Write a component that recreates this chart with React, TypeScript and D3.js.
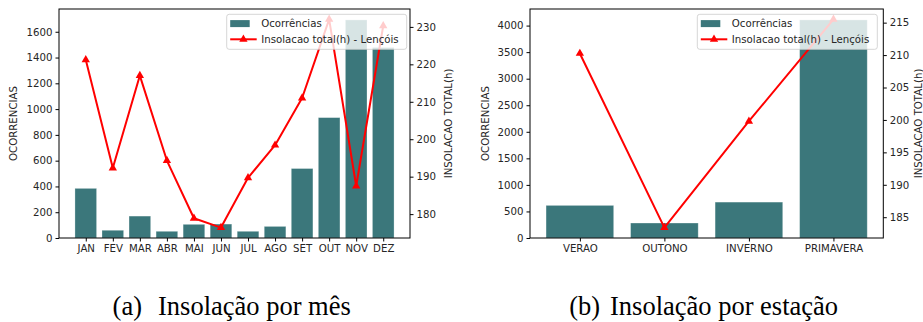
import React, { useEffect, useRef } from 'react'
import * as d3 from 'd3'

const months = ['JAN', 'FEV', 'MAR', 'ABR', 'MAI', 'JUN', 'JUL', 'AGO', 'SET', 'OUT', 'NOV', 'DEZ']
const monthCounts = [385, 60, 170, 52, 106, 108, 52, 90, 539, 934, 1692, 1478]
const monthSun = [221.2, 192.3, 217.0, 194.3, 178.9, 176.4, 189.7, 198.4, 211.0, 232.0, 187.5, 230.3]
const monthCountTicks = [0, 200, 400, 600, 800, 1000, 1200, 1400, 1600]
const monthSunTicks = [180, 190, 200, 210, 220, 230]

const seasons = ['VERAO', 'OUTONO', 'INVERNO', 'PRIMAVERA']
const seasonCounts = [614, 282, 676, 4107]
const seasonSun = [210.25, 183.4, 199.8, 215.5]
const seasonCountTicks = [0, 500, 1000, 1500, 2000, 2500, 3000, 3500, 4000]
const seasonSunTicks = [185, 190, 195, 200, 205, 210, 215]

const captionTags = ['(a)', '(b)']
const captionTitles = ['Insolação por mês', 'Insolação por estação']

const BAR = '#3b777b'
const TXT = '#262626'
const FONT = 'DejaVu Sans'
const FS = 10.2

type Panel = {
  cats: string[]
  counts: number[]
  sun: number[]
  countTicks: number[]
  sunTicks: number[]
  left: number
  right: number
  leftLabelX: number
  rightLabelX: number
  legendX: number
}

function drawPanel(svg: any, p: Panel) {
  const top = 9
  const bottom = 238
  const n = p.cats.length

  // matplotlib style margins (5% of the data span)
  const m = 0.05 * (n - 0.2)
  const x = d3.scaleLinear().domain([-0.4 - m, n - 0.6 + m]).range([p.left, p.right])
  const cMax = d3.max(p.counts) as number
  const y = d3.scaleLinear().domain([0, cMax * 1.05]).range([bottom, top])
  const sMin = d3.min(p.sun) as number
  const sMax = d3.max(p.sun) as number
  const pad = (sMax - sMin) * 0.05
  const y2 = d3.scaleLinear().domain([sMin - pad, sMax + pad]).range([bottom, top])

  const g = svg.append('g')

  // bars
  g.selectAll('rect.bar')
    .data(p.counts)
    .enter()
    .append('rect')
    .attr('class', 'bar')
    .attr('x', (d: number, i: number) => x(i - 0.4))
    .attr('width', x(0.8) - x(0))
    .attr('y', (d: number) => y(d))
    .attr('height', (d: number) => bottom - y(d))
    .attr('fill', BAR)
    .attr('stroke', '#ffffff')
    .attr('stroke-opacity', 0.35)
    .attr('stroke-width', 0.8)

  // line
  const line = d3
    .line<number>()
    .x((d, i) => x(i))
    .y((d) => y2(d))
  g.append('path')
    .datum(p.sun)
    .attr('d', line)
    .attr('fill', 'none')
    .attr('stroke', '#ff0000')
    .attr('stroke-width', 2)
    .attr('stroke-linejoin', 'round')

  const tri = d3.symbol().type(d3.symbolTriangle).size(30)
  g.selectAll('path.mk')
    .data(p.sun)
    .enter()
    .append('path')
    .attr('class', 'mk')
    .attr('d', tri)
    .attr('transform', (d: number, i: number) => `translate(${x(i)},${y2(d)})`)
    .attr('fill', '#ff0000')

  // frame
  g.append('rect')
    .attr('x', p.left)
    .attr('y', top)
    .attr('width', p.right - p.left)
    .attr('height', bottom - top)
    .attr('fill', 'none')
    .attr('stroke', '#000')
    .attr('stroke-width', 1)

  const axisStyle = (a: any) => {
    a.select('.domain').remove()
    a.selectAll('line').attr('stroke', '#000')
    a.selectAll('text').attr('fill', TXT).attr('font-family', FONT).attr('font-size', FS)
  }

  g.append('g')
    .attr('transform', `translate(0,${bottom})`)
    .call(
      d3.axisBottom(x)
        .tickValues(d3.range(n))
        .tickFormat((d: any) => p.cats[d])
        .tickSize(3.5)
        .tickPadding(3),
    )
    .call(axisStyle)

  g.append('g')
    .attr('transform', `translate(${p.left},0)`)
    .call(d3.axisLeft(y).tickValues(p.countTicks).tickFormat(d3.format('d')).tickSize(3.5).tickPadding(3))
    .call(axisStyle)

  g.append('g')
    .attr('transform', `translate(${p.right},0)`)
    .call(d3.axisRight(y2).tickValues(p.sunTicks).tickFormat(d3.format('d')).tickSize(3.5).tickPadding(3))
    .call(axisStyle)

  const midY = (top + bottom) / 2
  g.append('text')
    .attr('transform', `translate(${p.leftLabelX},${midY}) rotate(-90)`)
    .attr('text-anchor', 'middle')
    .attr('dominant-baseline', 'central')
    .attr('font-family', FONT)
    .attr('font-size', FS)
    .attr('fill', TXT)
    .text('OCORRENCIAS')
  g.append('text')
    .attr('transform', `translate(${p.rightLabelX},${midY}) rotate(-90)`)
    .attr('text-anchor', 'middle')
    .attr('dominant-baseline', 'central')
    .attr('font-family', FONT)
    .attr('font-size', FS)
    .attr('fill', TXT)
    .text('INSOLACAO TOTAL(h)')

  // legend
  const lg = g.append('g').attr('transform', `translate(${p.legendX},14.3)`)
  lg.append('rect')
    .attr('width', 180)
    .attr('height', 35)
    .attr('rx', 2.5)
    .attr('fill', '#fff')
    .attr('fill-opacity', 0.8)
    .attr('stroke', '#cccccc')
    .attr('stroke-opacity', 0.8)
  lg.append('rect').attr('x', 3.5).attr('y', 5.8).attr('width', 19.5).attr('height', 7).attr('fill', BAR)
  lg.append('line')
    .attr('x1', 3.5)
    .attr('x2', 30)
    .attr('y1', 25)
    .attr('y2', 25)
    .attr('stroke', '#ff0000')
    .attr('stroke-width', 2)
  lg.append('path').attr('d', tri).attr('transform', 'translate(16.7,25)').attr('fill', '#ff0000')
  lg.append('text')
    .attr('x', 34.5)
    .attr('y', 13)
    .attr('font-family', FONT)
    .attr('font-size', FS)
    .attr('fill', TXT)
    .text('Ocorrências')
  lg.append('text')
    .attr('x', 34.5)
    .attr('y', 28.8)
    .attr('font-family', FONT)
    .attr('font-size', FS)
    .attr('fill', TXT)
    .text('Insolacao total(h) - Lençóis')
}

export default function App() {
  const ref = useRef<SVGSVGElement>(null)

  useEffect(() => {
    document.body.style.margin = '0'
    const svg = d3.select(ref.current)
    svg.selectAll('*').remove()

    drawPanel(svg, {
      cats: months,
      counts: monthCounts,
      sun: monthSun,
      countTicks: monthCountTicks,
      sunTicks: monthSunTicks,
      left: 59,
      right: 410,
      leftLabelX: 13.5,
      rightLabelX: 448,
      legendX: 226.7,
    })
    drawPanel(svg, {
      cats: seasons,
      counts: seasonCounts,
      sun: seasonSun,
      countTicks: seasonCountTicks,
      sunTicks: seasonSunTicks,
      left: 530,
      right: 883.3,
      leftLabelX: 485,
      rightLabelX: 918.5,
      legendX: 697.3,
    })

    // subfigure captions
    const tagX = [112.6, 569.3]
    const titleX = [158, 610]
    const cap = svg
      .selectAll('g.cap')
      .data(captionTitles)
      .enter()
      .append('g')
      .attr('class', 'cap')
      .attr('font-family', 'Liberation Serif')
      .attr('font-size', 26.5)
      .attr('fill', '#000')
    cap.append('text')
      .attr('x', (d, i) => tagX[i])
      .attr('y', 315)
      .text((d, i) => captionTags[i])
    cap.append('text')
      .attr('x', (d, i) => titleX[i])
      .attr('y', 315)
      .text((d) => d)
  }, [])

  return <svg ref={ref} width={923} height={322} style={{ display: 'block', background: '#fff' }} />
}
